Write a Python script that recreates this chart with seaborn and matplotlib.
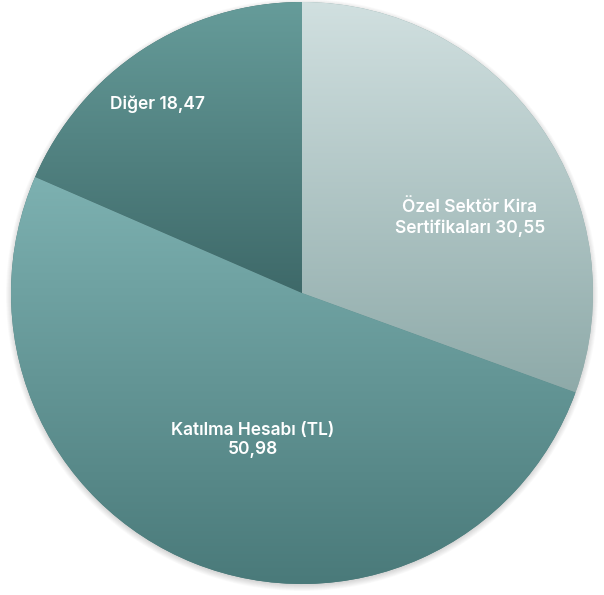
import numpy as np
import matplotlib
matplotlib.use("Agg")
import matplotlib.pyplot as plt
import seaborn as sns
from matplotlib.patches import Circle

sns.set_theme(style="white")
plt.rcParams['font.family'] = ['Inter', 'DejaVu Sans']

# data
labels = ["Özel Sektör Kira\nSertifikaları 30,55", "Katılma Hesabı (TL)\n50,98", "Diğer 18,47"]
values = [30.55, 50.98, 18.47]
# gradient (top colour, bottom colour) per slice
top_colors = ["#d1e0e0", "#7db1b1", "#669c9a"]
bottom_colors = ["#8eaaa9", "#4a7a7a", "#3e6969"]
label_pos = [(470, 218), (253, 440), (158, 104)]  # pixel positions from top-left

W, H = 604, 595
cx, cy, R = 302, H - 293, 291

fig = plt.figure(figsize=(W / 100, H / 100), dpi=100)
ax = fig.add_axes([0, 0, 1, 1])
ax.set_xlim(0, W)
ax.set_ylim(0, H)
ax.set_aspect('equal')
ax.axis('off')

# soft shadow
for i in range(8):
    ax.add_patch(Circle((cx, cy - 2), R + 5 - i * 0.8, color='black', alpha=0.02, lw=0, zorder=0))

wedges, _ = ax.pie(values, center=(cx, cy), radius=R, startangle=90, counterclock=False,
                   colors=bottom_colors, wedgeprops=dict(linewidth=0))
ax.set_xlim(0, W)
ax.set_ylim(0, H)

for w, c_top, c_bot in zip(wedges, top_colors, bottom_colors):
    th = np.radians(np.linspace(w.theta1, w.theta2, 200))
    ys = np.concatenate([[cy], cy + R * np.sin(th)])
    xs = np.concatenate([[cx], cx + R * np.cos(th)])
    pal = sns.blend_palette([c_bot, c_top], 256, as_cmap=True)
    grad = np.linspace(0, 1, 256).reshape(-1, 1)
    im = ax.imshow(grad, cmap=pal, origin='lower', aspect='auto',
                   extent=[xs.min(), xs.max(), ys.min(), ys.max()], zorder=2)
    im.set_clip_path(w)

for txt, (px, py) in zip(labels, label_pos):
    ax.text(px, H - py, txt, ha='center', va='center', color='white', fontsize=12.5,
            fontweight='semibold', linespacing=1.2, zorder=3)

fig.savefig('out.png', dpi=100)
